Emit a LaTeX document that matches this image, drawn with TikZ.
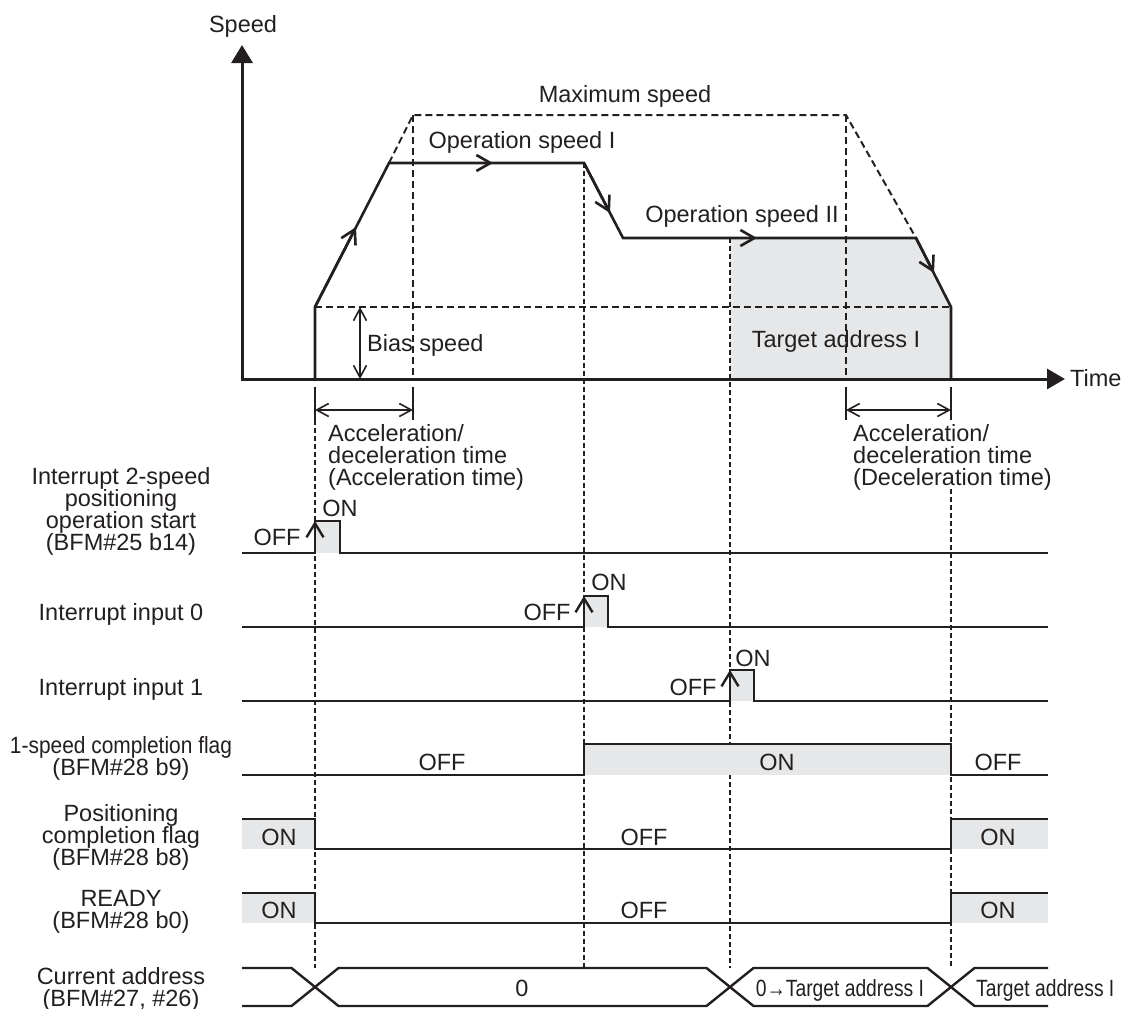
\documentclass[tikz,border=0pt]{standalone}
\usepackage{fontspec}
\setmainfont{Liberation Sans}
\newfontfamily\narrowfont{Liberation Sans}[FakeStretch=0.89]
\newfontfamily\busfont{Liberation Sans}[FakeStretch=0.82]
\usetikzlibrary{arrows.meta,positioning}
\definecolor{ink}{RGB}{35,31,32}
\definecolor{padgray}{RGB}{230,231,232}

\begin{document}
\begin{tikzpicture}[x=1pt, y=-1pt, color=ink,
        font=\fontsize{23.5}{22}\selectfont,
        axisline/.style={line width=3pt, {Triangle[length=18pt,width=21pt]}-{Triangle[length=18pt,width=20pt]}},
        prof/.style={line width=2.6pt},
        flowarrow/.style={prof, -{Straight Barb[length=14pt,width=16pt]}},
        maxdash/.style={line width=2pt, dash pattern=on 7pt off 4pt},
        guide/.style={line width=1.3pt, dash pattern=on 5pt off 3pt},
        dimtick/.style={line width=1.6pt},
        dimarrow/.style={line width=1.6pt, {Straight Barb[length=12pt,width=13pt]}-{Straight Barb[length=12pt,width=13pt]}},
        sig/.style={line width=2.4pt},
        risearrow/.style={sig, -{Straight Barb[length=14pt,width=17pt]}},
        lbl/.style={align=center, inner sep=0pt},
        val/.style={inner sep=0pt, anchor=base}]
        \useasboundingbox (0,0) rectangle (1136,1009);

        % speed profile points
        \coordinate (s0) at (315,379);
        \coordinate (s1) at (315,307);
        \coordinate (s2) at (389,163);
        \coordinate (s3) at (584,163);
        \coordinate (s4) at (623,238);
        \coordinate (s5) at (916,238);
        \coordinate (s6) at (951,307);
        \coordinate (s7) at (951,379);
        \coordinate (m1) at (413,115);
        \coordinate (m2) at (846,115);

        \fill[padgray] (730,238) -- (s5) -- (s6) -- (s7) -- (730,379) -- cycle;

        % maximum speed and bias speed
        \draw[maxdash] (s2) -- (m1) -- (m2) -- (s5);
        \draw[maxdash] (m1) -- (413,379);
        \draw[maxdash] (m2) -- (846,379);
        \draw[maxdash] (s1) -- (s6);

        % time guides
        \draw[guide] (315,420) -- (315,968);
        \draw[guide] (s3) -- (584,968);
        \draw[guide] (730,238) -- (730,968);
        \draw[guide] (951,489) -- (951,968);

        \draw[axisline] (242,45) -- (242,379) -- (1065,379);

        \draw[prof] (s0) -- (s1) -- (s2) -- (s3) -- (s4) -- (s5) -- (s6) -- (s7);
        \draw[flowarrow] (s1) -- (356,227);
        \draw[flowarrow] (s2) -- (493,163);
        \draw[flowarrow] (s3) -- (610,213);
        \draw[flowarrow] (s4) -- (757,238);
        \draw[flowarrow] (s5) -- (934,273);

        \draw[dimtick] (315,387) -- (315,420);
        \draw[dimtick] (413,387) -- (413,420);
        \draw[dimtick] (846,387) -- (846,420);
        \draw[dimtick] (951,387) -- (951,420);
        \draw[dimarrow] (315,410) -- (413,410);
        \draw[dimarrow] (846,410) -- (951,410);
        \draw[dimarrow] (360,307) -- (360,379);

        \node[val] (speed) at (243,32) {Speed};
        \node[val, anchor=base west] (time) at (1070,386) {Time};
        \node[val] (maxspd) at (625,102) {Maximum speed};
        \node[val] (opspd1) at (522,148) {Operation speed I};
        \node[val] (opspd2) at (742,222) {Operation speed II};
        \node[val, anchor=base west] (bias) at (367,351) {Bias speed};
        \node[val] (target) at (836,347) {Target address I};
        \node[inner sep=0pt, align=left, anchor=west] (acctime) at (328,457)
            {Acceleration/\\deceleration time\\(Acceleration time)};
        \node[inner sep=0pt, align=left, anchor=west] (dectime) at (853,457)
            {Acceleration/\\deceleration time\\(Deceleration time)};

        % signal names
        \node[lbl] (start) at (121,511) {Interrupt 2-speed\\positioning\\operation start\\(BFM\#25 b14)};
        \node[val] (int0) at (121,620) {Interrupt input 0};
        \node[val] (int1) at (121,695) {Interrupt input 1};
        \node[lbl] (flag1) at (121,758) {{\narrowfont 1-speed completion flag}\\(BFM\#28 b9)};
        \node[lbl] (posflag) at (121,837) {Positioning\\completion flag\\(BFM\#28 b8)};
        \node[lbl] (ready) at (121,912) {READY\\(BFM\#28 b0)};
        \node[lbl] (curaddr) at (121,989) {Current address\\(BFM\#27, \#26)};

        % operation start
        \fill[padgray] (315,521) rectangle (340,553);
        \draw[sig] (242,553) -- (315,553) -- (315,521) -- (340,521) -- (340,553) -- (1048,553);
        \draw[risearrow] (315,553) -- (315,521);
        \node[val] (startoff) at (277,545) {OFF};
        \node[val] (starton) at (340,516) {ON};

        % interrupt input 0
        \fill[padgray] (584,596) rectangle (608,627);
        \draw[sig] (242,627) -- (584,627) -- (584,596) -- (608,596) -- (608,627) -- (1048,627);
        \draw[risearrow] (584,627) -- (584,596);
        \node[val] (int0off) at (547,620) {OFF};
        \node[val] (int0on) at (609,590) {ON};

        % interrupt input 1
        \fill[padgray] (730,670) rectangle (754,701);
        \draw[sig] (242,701) -- (730,701) -- (730,670) -- (754,670) -- (754,701) -- (1048,701);
        \draw[risearrow] (730,701) -- (730,670);
        \node[val] (int1off) at (693,695) {OFF};
        \node[val] (int1on) at (753,666) {ON};

        % 1-speed completion flag
        \fill[padgray] (584,744) rectangle (951,775);
        \draw[sig] (242,775) -- (584,775) -- (584,744) -- (951,744) -- (951,775) -- (1048,775);
        \node[val] (flag1offa) at (442,770) {OFF};
        \node[val] (flag1on) at (777,770) {ON};
        \node[val] (flag1offb) at (998,770) {OFF};

        % positioning completion flag
        \fill[padgray] (242,819) rectangle (315,849);
        \fill[padgray] (951,819) rectangle (1048,849);
        \draw[sig] (242,819) -- (315,819) -- (315,849) -- (951,849) -- (951,819) -- (1048,819);
        \node[val] (posona) at (279,845) {ON};
        \node[val] (posoff) at (644,845) {OFF};
        \node[val] (posonb) at (998,845) {ON};

        % READY
        \fill[padgray] (242,893) rectangle (315,923);
        \fill[padgray] (951,893) rectangle (1048,923);
        \draw[sig] (242,893) -- (315,893) -- (315,923) -- (951,923) -- (951,893) -- (1048,893);
        \node[val] (readyona) at (279,918) {ON};
        \node[val] (readyoff) at (644,918) {OFF};
        \node[val] (readyonb) at (998,918) {ON};

        % current address
        \draw[sig] (242,968) -- (291.5,968) -- (338.5,1006) -- (706.5,1006) -- (753.5,968) -- (927.5,968) -- (974.5,1006) -- (1048,1006);
        \draw[sig] (242,1006) -- (291.5,1006) -- (338.5,968) -- (706.5,968) -- (753.5,1006) -- (927.5,1006) -- (974.5,968) -- (1048,968);
        \node[val] (addr0) at (522,996) {0};
        \node[val] (addrmove) at (840,996) {\busfont 0→Target address I};
        \node[val, anchor=base west] (addrend) at (976,996) {\busfont Target address I};
    \end{tikzpicture}
\end{document}
